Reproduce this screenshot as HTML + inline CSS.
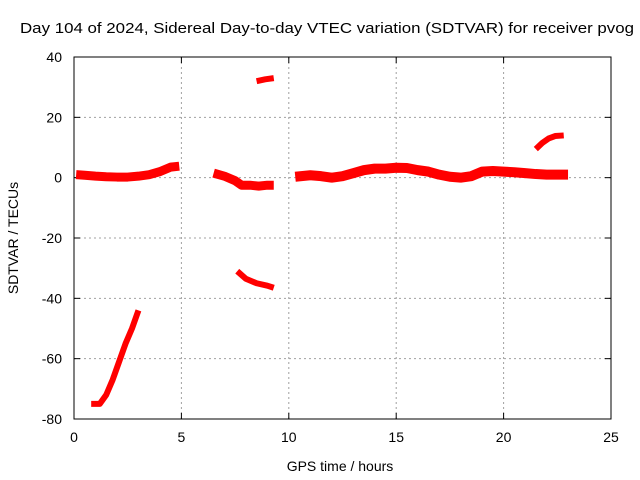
<!DOCTYPE html>
<html><head><meta charset="utf-8"><style>
body{margin:0;background:#fff;}
svg{display:block;font-family:"Liberation Sans",sans-serif;}
</style></head><body>
<svg id="chart" width="640" height="480">
<text x="20" y="33" font-size="15" textLength="614" lengthAdjust="spacingAndGlyphs">Day 104 of 2024, Sidereal Day-to-day VTEC variation (SDTVAR) for receiver pvog</text>
<text x="340" y="471" font-size="14" text-anchor="middle">GPS time / hours</text>
<text transform="translate(18,238) rotate(-90)" font-size="14" text-anchor="middle">SDTVAR / TECUs</text>
<g id="grid"></g><g id="series"></g>
<rect x="74" y="57" width="537" height="362" fill="none" stroke="#000"/>
</svg>
<script>
const xTicks=[0,5,10,15,20,25];
const yTicks=[40,20,0,-20,-40,-60,-80];
const seg1H=[0.1,0.5,1,1.5,2,2.5,3,3.5,4,4.5,4.9];
const seg1V=[1,0.8,0.5,0.3,0.2,0.2,0.5,1,2,3.5,3.8];
const seg2H=[0.8,1.2,1.5,1.8,2.1,2.4,2.7,3.0];
const seg2V=[-75,-75,-72,-67,-61,-55,-50,-44];
const seg3H=[6.5,7,7.5,7.8,8.2,8.6,9,9.3];
const seg3V=[1.5,0.5,-1,-2.5,-2.5,-2.8,-2.5,-2.5];
const seg4H=[7.6,8,8.5,9,9.3];
const seg4V=[-31,-33.5,-35,-35.8,-36.5];
const seg5H=[8.5,8.9,9.3];
const seg5V=[32,32.6,33];
const seg6H=[10.3,11,11.5,12,12.5,13,13.5,14,14.5,15,15.5,16,16.5,17,17.5,18,18.5,19,19.5,20,20.5,21,21.5,22,22.5,23];
const seg6V=[0.3,0.8,0.5,0,0.5,1.5,2.5,3,3,3.3,3.2,2.5,2,1,0.3,0,0.5,2,2.2,2,1.8,1.5,1.2,1,1,1];
const seg7H=[21.5,21.8,22.1,22.4,22.8];
const seg7V=[9.5,11.5,13,13.8,14];
const X=h=>74+h*537/25, Y=v=>57+(40-v)*362/120;
const ns="http://www.w3.org/2000/svg";
const grid=document.getElementById('grid'), ser=document.getElementById('series');
function mk(t,a,p){const e=document.createElementNS(ns,t);for(const k in a)e.setAttribute(k,a[k]);p.appendChild(e);return e;}
xTicks.forEach(t=>{const x=X(t);
 if(t>0&&t<25){const l=mk('line',{x1:x,x2:x,y1:57,y2:419,stroke:'#a0a0a0','stroke-dasharray':'2,3'},grid);}
 mk('line',{x1:x,x2:x,y1:419,y2:413,stroke:'#000'},grid);mk('line',{x1:x,x2:x,y1:57,y2:63,stroke:'#000'},grid);
 const tx=mk('text',{x:x,y:442,'font-size':14,'text-anchor':'middle'},grid);tx.textContent=t;
 });
yTicks.forEach(t=>{const y=Y(t);
 if(t<40&&t>-80){const l=mk('line',{x1:74,x2:611,y1:y,y2:y,stroke:'#a0a0a0','stroke-dasharray':'2,3'},grid);}
 mk('line',{x1:74,x2:80,y1:y,y2:y,stroke:'#000'},grid);mk('line',{x1:605,x2:611,y1:y,y2:y,stroke:'#000'},grid);
 const tx=mk('text',{x:62,y:y+5,'font-size':14,'text-anchor':'end'},grid);tx.textContent=t;
 });
[[seg1H,seg1V,9],[seg2H,seg2V,6],[seg3H,seg3V,9],[seg4H,seg4V,6],[seg5H,seg5V,6],[seg6H,seg6V,10],[seg7H,seg7V,6]].forEach(([H,V,w],i)=>{
 const pts=H.map((h,j)=>X(h)+','+Y(V[j])).join(' ');
 const p=mk('polyline',{points:pts,fill:'none',stroke:'#f00','stroke-width':w,'stroke-linejoin':'round','stroke-linecap':'butt'},ser);
 
 
});
</script>
</body></html>
